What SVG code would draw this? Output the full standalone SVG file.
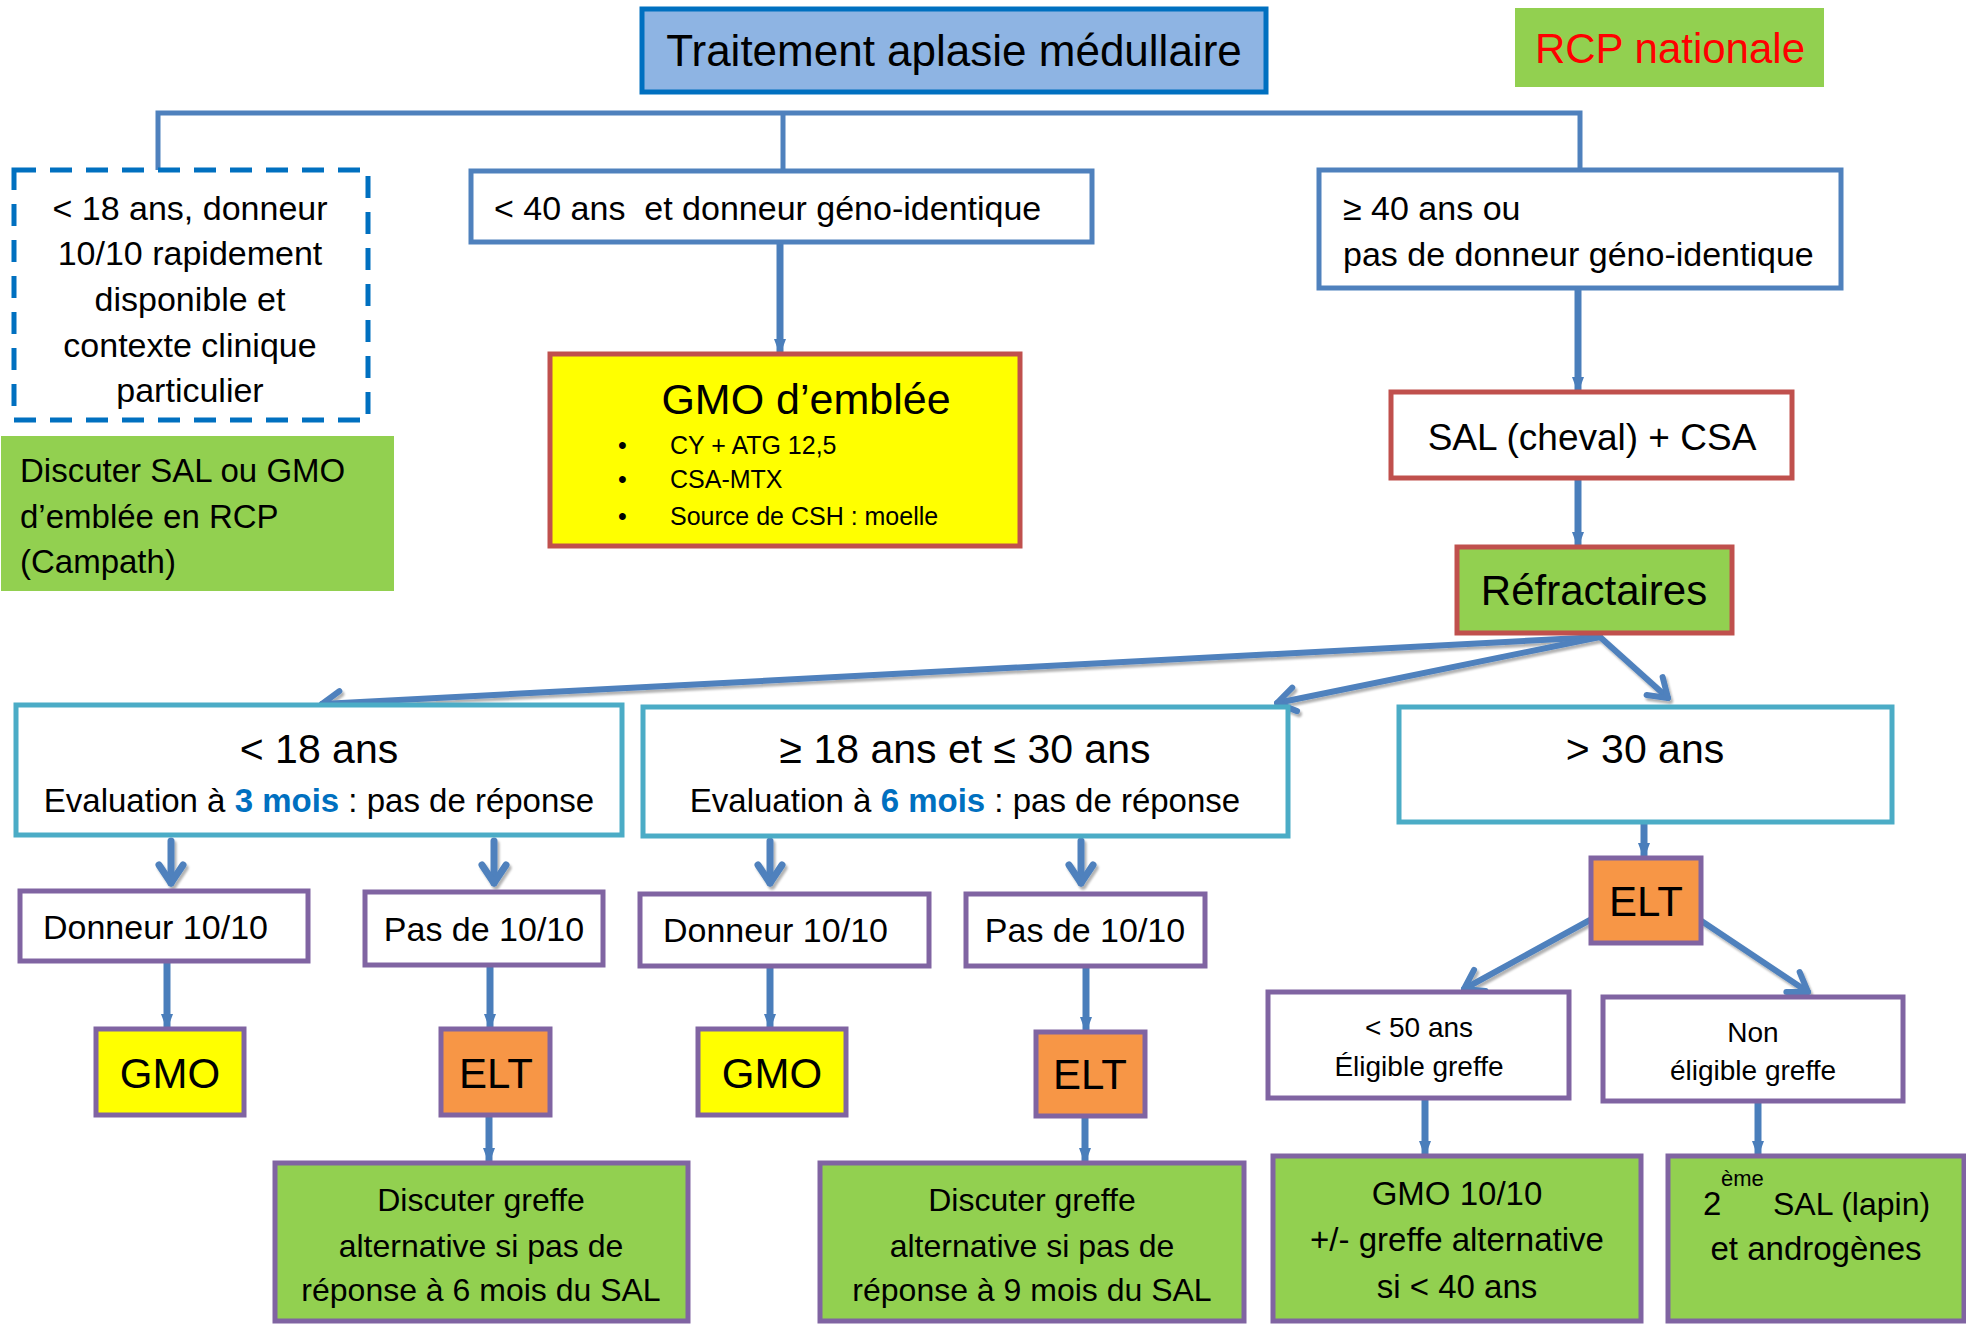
<svg xmlns="http://www.w3.org/2000/svg" width="1966" height="1324" viewBox="0 0 1966 1324">
<style>
text{font-family:"Liberation Sans",Arial,sans-serif;fill:#000}
.c{text-anchor:middle}
.box{fill:#fff;stroke-width:5}
.blue{stroke:#4F81BD}
.cyan{stroke:#4BACC6}
.purple{stroke:#8064A2}
.red{stroke:#C0504D}
.hl{fill:#0070C0;font-weight:bold}
.thick{stroke:#4A7EBB;stroke-width:7;fill:none}
.bus{stroke:#4F81BD;stroke-width:5;fill:none}
.fan{stroke:#4F81BD;stroke-width:6;fill:none;stroke-linecap:round}
.small{stroke:#4F81BD;stroke-width:7;fill:none;stroke-linecap:round}
</style>
<defs>
<marker id="tri" markerUnits="userSpaceOnUse" viewBox="0 0 16 12" refX="15" refY="6" markerWidth="16" markerHeight="12" orient="auto" overflow="visible">
<path d="M0,0 L16,6 L0,12 Z" fill="#4A7EBB"/>
</marker>
<marker id="vee" markerUnits="userSpaceOnUse" viewBox="0 0 30 30" refX="26" refY="15" markerWidth="30" markerHeight="30" orient="auto" overflow="visible">
<path d="M8,3 L26,15 L8,27" fill="none" stroke="#4F81BD" stroke-width="6" stroke-linecap="round" stroke-linejoin="round"/>
</marker>
<marker id="vees" markerUnits="userSpaceOnUse" viewBox="0 0 30 30" refX="24" refY="15" markerWidth="30" markerHeight="30" orient="auto" overflow="visible">
<path d="M6,3 L24,15 L6,27" fill="none" stroke="#4F81BD" stroke-width="7" stroke-linecap="round" stroke-linejoin="round"/>
</marker>
<filter id="sh" x="-10%" y="-10%" width="120%" height="130%">
<feDropShadow dx="2" dy="3" stdDeviation="1.2" flood-color="#000" flood-opacity="0.3"/>
</filter>
</defs>

<g id="connectors">
<path class="bus" d="M158,170 V113 H1580 V170 M783,113 V171"/>
<g class="thick">
<line x1="780" y1="242" x2="780" y2="354" marker-end="url(#tri)"/>
<line x1="1578" y1="288" x2="1578" y2="392" marker-end="url(#tri)"/>
<line x1="1578" y1="478" x2="1578" y2="547" marker-end="url(#tri)"/>
<line x1="1644" y1="822" x2="1644" y2="858" marker-end="url(#tri)"/>
<line x1="167" y1="963" x2="167" y2="1029" marker-end="url(#tri)"/>
<line x1="490" y1="967" x2="490" y2="1029" marker-end="url(#tri)"/>
<line x1="770" y1="968" x2="770" y2="1029" marker-end="url(#tri)"/>
<line x1="1086" y1="968" x2="1086" y2="1032" marker-end="url(#tri)"/>
<line x1="489" y1="1117" x2="489" y2="1163" marker-end="url(#tri)"/>
<line x1="1085" y1="1118" x2="1085" y2="1163" marker-end="url(#tri)"/>
<line x1="1425" y1="1100" x2="1425" y2="1156" marker-end="url(#tri)"/>
<line x1="1758" y1="1103" x2="1758" y2="1156" marker-end="url(#tri)"/>
</g>
<g filter="url(#sh)">
<line class="fan" x1="1600" y1="637" x2="322" y2="704" marker-end="url(#vee)"/>
<line class="fan" x1="1600" y1="637" x2="1277" y2="703" marker-end="url(#vee)"/>
<line class="fan" x1="1600" y1="637" x2="1668" y2="698" marker-end="url(#vee)"/>
<line class="fan" x1="1590" y1="920" x2="1464" y2="989" marker-end="url(#vee)"/>
<line class="fan" x1="1700" y1="920" x2="1808" y2="992" marker-end="url(#vee)"/>
<line class="small" x1="171" y1="841" x2="171" y2="883" marker-end="url(#vees)"/>
<line class="small" x1="494" y1="841" x2="494" y2="883" marker-end="url(#vees)"/>
<line class="small" x1="770" y1="841" x2="770" y2="883" marker-end="url(#vees)"/>
<line class="small" x1="1081" y1="841" x2="1081" y2="883" marker-end="url(#vees)"/>
</g>
</g>

<g id="title">
<rect x="642" y="9" width="624" height="83" fill="#8EB4E3" stroke="#0070C0" stroke-width="5"/>
<text class="c" x="954" y="66" font-size="44">Traitement aplasie médullaire</text>
</g>

<g id="rcp">
<rect x="1515" y="8" width="309" height="79" fill="#92D050"/>
<text class="c" x="1670" y="63" font-size="42" style="fill:#FF0000">RCP nationale</text>
</g>

<g id="moins18-donneur">
<rect x="14" y="170" width="354" height="250" fill="#fff" stroke="#0070C0" stroke-width="5" stroke-dasharray="22 14"/>
<text class="c" font-size="34"><tspan x="190" y="220">&lt; 18 ans, donneur</tspan><tspan x="190" y="265">10/10 rapidement</tspan><tspan x="190" y="311">disponible et</tspan><tspan x="190" y="357">contexte clinique</tspan><tspan x="190" y="402">particulier</tspan></text>
</g>

<g id="discuter-rcp">
<rect x="1" y="436" width="393" height="155" fill="#92D050"/>
<text font-size="33"><tspan x="20" y="482">Discuter SAL ou GMO</tspan><tspan x="20" y="528">d’emblée en RCP</tspan><tspan x="20" y="573">(Campath)</tspan></text>
</g>

<g id="moins40">
<rect class="box blue" x="471" y="171" width="621" height="71"/>
<text x="494" y="220" font-size="34" xml:space="preserve">&lt; 40 ans  et donneur géno-identique</text>
</g>

<g id="gmo-emblee">
<rect x="550" y="354" width="470" height="192" fill="#FFFF00" stroke="#C0504D" stroke-width="5"/>
<text class="c" x="806" y="414" font-size="43">GMO d’emblée</text>
<g font-size="25">
<text x="618" y="454">•</text><text x="670" y="454">CY + ATG 12,5</text>
<text x="618" y="488">•</text><text x="670" y="488">CSA-MTX</text>
<text x="618" y="525">•</text><text x="670" y="525">Source de CSH : moelle</text>
</g>
</g>

<g id="plus40">
<rect class="box blue" x="1319" y="170" width="522" height="118"/>
<text font-size="34"><tspan x="1343" y="220">≥ 40 ans ou</tspan><tspan x="1343" y="266">pas de donneur géno-identique</tspan></text>
</g>

<g id="sal-cheval">
<rect class="box red" x="1391" y="392" width="401" height="86"/>
<text class="c" x="1592" y="450" font-size="37">SAL (cheval) + CSA</text>
</g>

<g id="refractaires">
<rect x="1457" y="547" width="275" height="86" fill="#92D050" stroke="#C0504D" stroke-width="5"/>
<text class="c" x="1594" y="605" font-size="42">Réfractaires</text>
</g>

<g id="age-moins18">
<rect class="box cyan" x="16" y="705" width="606" height="130"/>
<text class="c" x="319" y="763" font-size="41">&lt; 18 ans</text>
<text class="c" x="319" y="812" font-size="33">Evaluation à <tspan class="hl">3 mois</tspan> : pas de réponse</text>
</g>

<g id="age-18-30">
<rect class="box cyan" x="643" y="707" width="645" height="129"/>
<text class="c" x="965" y="763" font-size="41">≥ 18 ans et ≤ 30 ans</text>
<text class="c" x="965" y="812" font-size="33">Evaluation à <tspan class="hl">6 mois</tspan> : pas de réponse</text>
</g>

<g id="age-plus30">
<rect class="box cyan" x="1399" y="707" width="493" height="115"/>
<text class="c" x="1645" y="763" font-size="41">&gt; 30 ans</text>
</g>

<g id="donneur1">
<rect class="box purple" x="20" y="891" width="288" height="70"/>
<text x="43" y="939" font-size="34">Donneur 10/10</text>
</g>
<g id="pas1">
<rect class="box purple" x="365" y="892" width="238" height="73"/>
<text class="c" x="484" y="941" font-size="34">Pas de 10/10</text>
</g>
<g id="donneur2">
<rect class="box purple" x="640" y="894" width="289" height="72"/>
<text x="663" y="942" font-size="34">Donneur 10/10</text>
</g>
<g id="pas2">
<rect class="box purple" x="966" y="894" width="239" height="72"/>
<text class="c" x="1085" y="942" font-size="34">Pas de 10/10</text>
</g>

<g id="gmo1">
<rect x="96" y="1029" width="148" height="86" fill="#FFFF00" stroke="#8064A2" stroke-width="5"/>
<text class="c" x="170" y="1088" font-size="42">GMO</text>
</g>
<g id="elt1">
<rect x="441" y="1029" width="109" height="86" fill="#F79646" stroke="#8064A2" stroke-width="5"/>
<text class="c" x="496" y="1088" font-size="42">ELT</text>
</g>
<g id="gmo2">
<rect x="698" y="1029" width="148" height="86" fill="#FFFF00" stroke="#8064A2" stroke-width="5"/>
<text class="c" x="772" y="1088" font-size="42">GMO</text>
</g>
<g id="elt2">
<rect x="1036" y="1032" width="109" height="84" fill="#F79646" stroke="#8064A2" stroke-width="5"/>
<text class="c" x="1090" y="1089" font-size="42">ELT</text>
</g>
<g id="elt3">
<rect x="1591" y="858" width="110" height="85" fill="#F79646" stroke="#8064A2" stroke-width="5"/>
<text class="c" x="1646" y="916" font-size="42">ELT</text>
</g>

<g id="discuter1">
<rect x="275" y="1163" width="413" height="158" fill="#92D050" stroke="#8064A2" stroke-width="5"/>
<text class="c" font-size="32"><tspan x="481" y="1211">Discuter greffe</tspan><tspan x="481" y="1257">alternative si pas de</tspan><tspan x="481" y="1301">réponse à 6 mois du SAL</tspan></text>
</g>
<g id="discuter2">
<rect x="820" y="1163" width="424" height="158" fill="#92D050" stroke="#8064A2" stroke-width="5"/>
<text class="c" font-size="32"><tspan x="1032" y="1211">Discuter greffe</tspan><tspan x="1032" y="1257">alternative si pas de</tspan><tspan x="1032" y="1301">réponse à 9 mois du SAL</tspan></text>
</g>

<g id="moins50">
<rect class="box purple" x="1268" y="992" width="301" height="106"/>
<text class="c" font-size="28"><tspan x="1419" y="1037">&lt; 50 ans</tspan><tspan x="1419" y="1076">Éligible greffe</tspan></text>
</g>
<g id="non-eligible">
<rect class="box purple" x="1603" y="997" width="300" height="104"/>
<text class="c" font-size="28"><tspan x="1753" y="1042">Non</tspan><tspan x="1753" y="1080">éligible greffe</tspan></text>
</g>

<g id="gmo1010">
<rect x="1273" y="1156" width="368" height="165" fill="#92D050" stroke="#8064A2" stroke-width="5"/>
<text class="c" font-size="33"><tspan x="1457" y="1205">GMO 10/10</tspan><tspan x="1457" y="1251">+/- greffe alternative</tspan><tspan x="1457" y="1298">si &lt; 40 ans</tspan></text>
</g>
<g id="sal-lapin">
<rect x="1668" y="1156" width="296" height="165" fill="#92D050" stroke="#8064A2" stroke-width="5"/>
<text x="1703" y="1215" font-size="33">2</text>
<text x="1721" y="1186" font-size="22">ème</text>
<text x="1773" y="1215" font-size="32">SAL (lapin)</text>
<text class="c" x="1816" y="1260" font-size="33">et androgènes</text>
</g>
</svg>
